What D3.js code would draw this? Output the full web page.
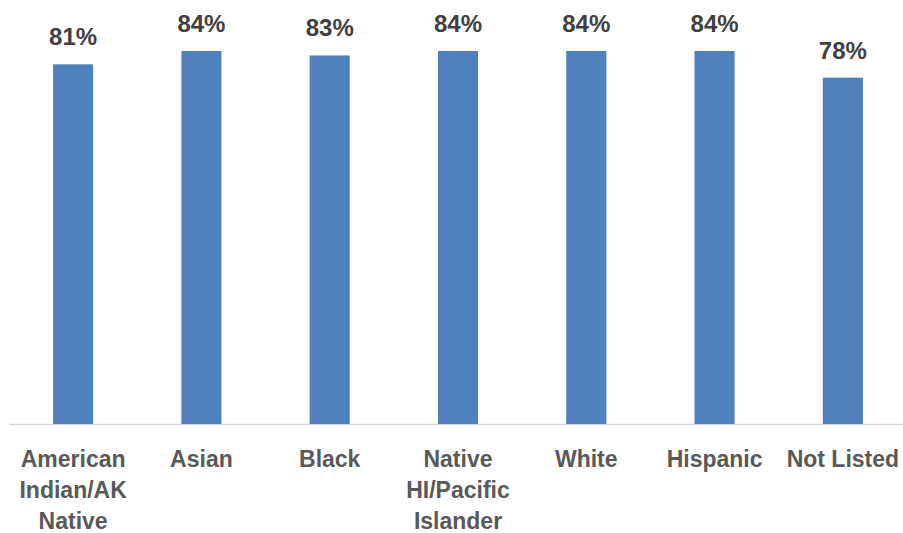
<!DOCTYPE html>
<html>
<head>
<meta charset="utf-8">
<script src="https://cdn.jsdelivr.net/npm/d3@7"></script>
<style>
  body { margin: 0; background: #fff; }
  text { font-family: "Liberation Sans", Arial, sans-serif; font-weight: bold; }
</style>
</head>
<body>
<svg id="chart" width="903" height="533"></svg>
<script>
// chart data
var categories = ["American Indian/AK Native", "Asian", "Black", "Native HI/Pacific Islander", "White", "Hispanic", "Not Listed"];
var values = [81, 84, 83, 84, 84, 84, 78];

var svg = d3.select("#chart");
var baseY = 424;

var x = d3.scaleBand()
	.domain(categories)
	.range([9, 907])
	.paddingInner(0.6875)
	.paddingOuter(0.34375);

var y = d3.scaleLinear()
	.domain([0, 84])
	.range([baseY, 51]);

// axis line
svg.append("line")
	.attr("x1", 9).attr("x2", 903)
	.attr("y1", baseY + 0.5).attr("y2", baseY + 0.5)
	.style("stroke", "#d9d9d9")
	.style("stroke-width", 1.5);

var data = categories.map(function (c, i) { return { cat: c, val: values[i] }; });

svg.selectAll("rect.bar")
	.data(data)
	.enter().append("rect")
	.attr("class", "bar")
	.attr("x", function (d) { return x(d.cat); })
	.attr("width", x.bandwidth())
	.attr("y", function (d) { return y(d.val); })
	.attr("height", function (d) { return baseY - y(d.val); })
	.style("fill", "#4f81bd");

// value labels
svg.selectAll("text.val")
	.data(data)
	.enter().append("text")
	.attr("class", "val")
	.attr("x", function (d) { return x(d.cat) + x.bandwidth() / 2; })
	.attr("y", function (d) { return y(d.val) - 19; })
	.attr("text-anchor", "middle")
	.style("font-size", "24px")
	.style("fill", "#404040")
	.text(function (d) { return d.val + "%"; });

// category labels, wrapped to band step
var step = x.step();
var labels = svg.selectAll("text.cat")
	.data(data)
	.enter().append("text")
	.attr("class", "cat")
	.attr("x", function (d) { return x(d.cat) + x.bandwidth() / 2; })
	.attr("y", 467)
	.attr("text-anchor", "middle")
	.style("font-size", "23px")
	.style("fill", "#595959");

labels.each(function (d) {
	var t = d3.select(this);
	var words = d.cat.split(" ");
	var lines = [], cur = [];
	var probe = t.append("tspan");
	words.forEach(function (w) {
		var test = cur.concat([w]).join(" ");
		probe.text(test);
		if (cur.length && probe.node().getComputedTextLength() > step - 6) {
			lines.push(cur.join(" "));
			cur = [w];
		} else {
			cur.push(w);
		}
	});
	lines.push(cur.join(" "));
	probe.remove();
	lines.forEach(function (l, i) {
		t.append("tspan")
			.attr("x", t.attr("x"))
			.attr("dy", i === 0 ? 0 : 31)
			.text(l);
	});
});
</script>
</body>
</html>
